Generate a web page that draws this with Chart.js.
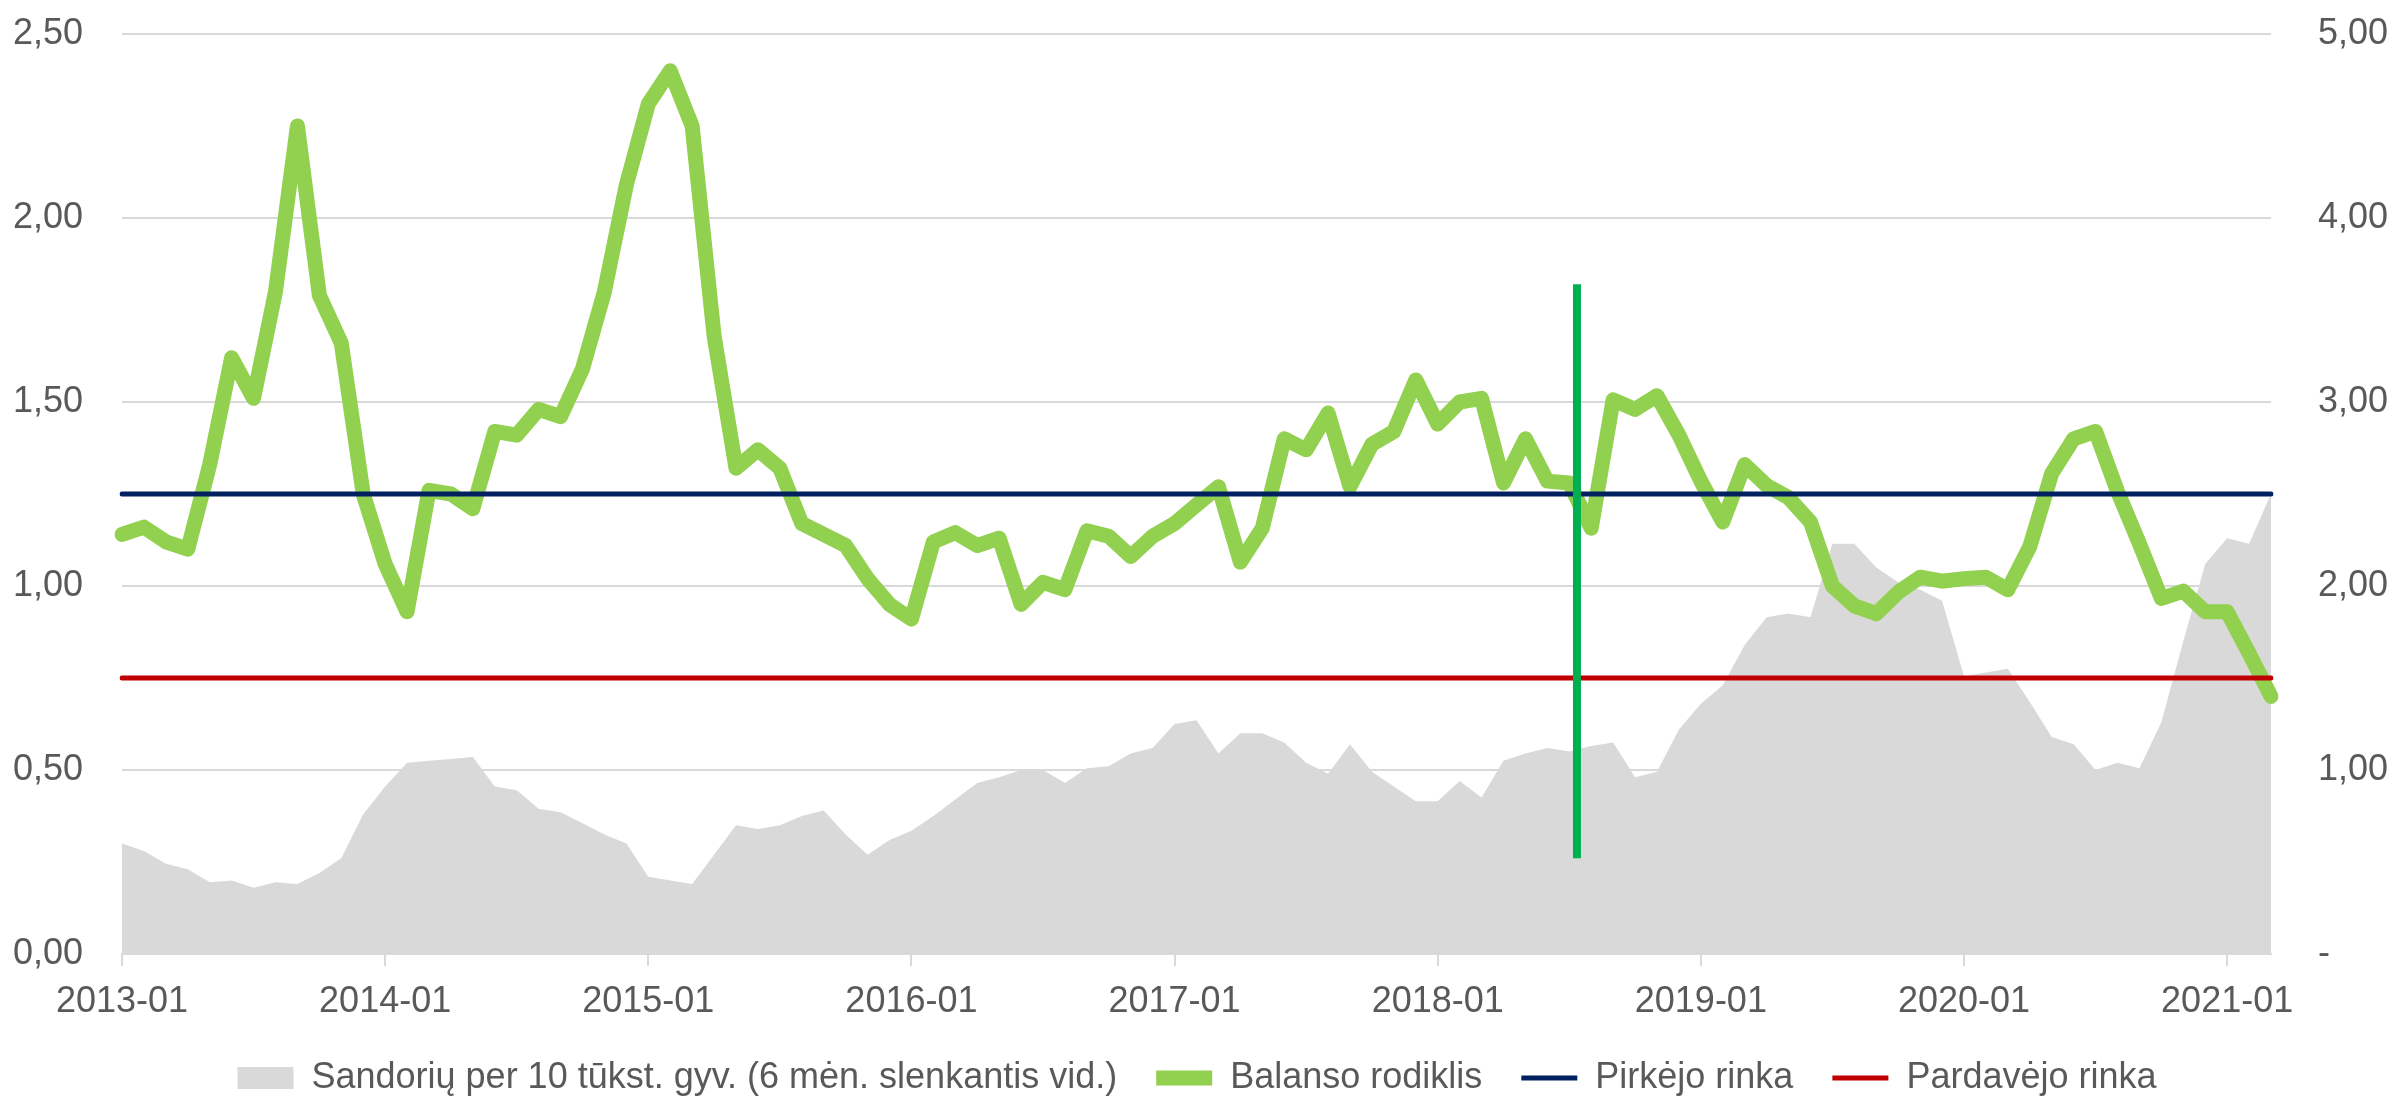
<!DOCTYPE html>
<html>
<head>
<meta charset="utf-8">
<script src="https://cdn.jsdelivr.net/npm/chart.js@4/dist/chart.umd.min.js"></script>
<style>
	html, body { margin: 0; padding: 0; background: #fff; }
	#wrap { width: 2394px; height: 1098px; position: relative; }
</style>
</head>
<body>
<div id="wrap"><canvas id="myChart"></canvas></div>
<script>
// months 2013-01 .. 2021-03
const months = []
for (let y = 2013; y <= 2021; y++) {
	for (let m = 1; m <= 12; m++) {
		if (y === 2021 && m > 3) break
		months.push(y + '-' + String(m).padStart(2, '0'))
	}
}

// Balanso rodiklis (left axis)
const balansas = [
	1.14, 1.16, 1.12, 1.10, 1.33, 1.62, 1.51, 1.80, 2.25, 1.79, 1.66, 1.25,
	1.06, 0.93, 1.26, 1.25, 1.21, 1.42, 1.41, 1.48, 1.46, 1.59, 1.80, 2.09,
	2.31, 2.40, 2.25, 1.68, 1.32, 1.37, 1.32, 1.17, 1.14, 1.11, 1.02, 0.95,
	0.91, 1.12, 1.145, 1.11, 1.13, 0.95, 1.01, 0.99, 1.15, 1.135, 1.08, 1.135,
	1.17, 1.22, 1.27, 1.065, 1.157, 1.40, 1.37, 1.47, 1.27, 1.385, 1.42, 1.56,
	1.44, 1.50, 1.51, 1.28, 1.40, 1.285, 1.28, 1.157, 1.506, 1.48, 1.517, 1.41,
	1.285, 1.174, 1.33, 1.273, 1.24, 1.174, 1.00, 0.946, 0.925, 0.983, 1.024, 1.013,
	1.02, 1.024, 0.99, 1.107, 1.306, 1.40, 1.42, 1.257, 1.115, 0.966, 0.986, 0.93,
	0.93, 0.817, 0.70
]

// Sandoriai per 10 tukst. gyv. (right axis)
const sandoriai = [
	0.60, 0.56, 0.49, 0.46, 0.39, 0.40, 0.36, 0.39, 0.38, 0.44, 0.52, 0.76,
	0.91, 1.04, 1.05, 1.06, 1.07, 0.91, 0.89, 0.79, 0.77, 0.71, 0.65, 0.60,
	0.42, 0.40, 0.38, 0.54, 0.70, 0.68, 0.70, 0.75, 0.78, 0.65, 0.54, 0.62,
	0.67, 0.75, 0.84, 0.93, 0.96, 1.00, 1.00, 0.93, 1.01, 1.02, 1.09, 1.12,
	1.25, 1.27, 1.09, 1.20, 1.20, 1.15, 1.04, 0.98, 1.14, 0.99, 0.91, 0.83,
	0.83, 0.94, 0.85, 1.05, 1.09, 1.12, 1.10, 1.13, 1.15, 0.96, 0.99, 1.22,
	1.36, 1.46, 1.68, 1.83, 1.85, 1.83, 2.23, 2.23, 2.10, 2.02, 1.98, 1.92,
	1.51, 1.53, 1.55, 1.37, 1.18, 1.14, 1.00, 1.04, 1.01, 1.26, 1.70, 2.12,
	2.26, 2.23, 2.50
]

const pirkejoRinka = 1.25
const pardavejoRinka = 0.75

// vertical marker (month index, between 2018-07 and 2018-08) and its span on the left axis
const markerMonth = 66.35
const markerSpan = [0.26, 1.82]

const fontFamily = '"Liberation Sans", Arial, sans-serif'
const fontSize = 36
const textColor = '#595959'
const gridColor = '#d9d9d9'

const fmt = v => Number(v).toFixed(2).replace('.', ',')

Chart.defaults.font.family = fontFamily
Chart.defaults.font.size = fontSize
Chart.defaults.color = textColor

const ctx = document.getElementById('myChart')
const chart = new Chart(ctx, {
	type: 'line',
	data: {
		labels: months,
		datasets: [
			{
				label: 'Sandorių per 10 tūkst. gyv. (6 mėn. slenkantis vid.)',
				data: sandoriai,
				yAxisID: 'y2',
				fill: 'origin',
				backgroundColor: '#d9d9d9',
				borderWidth: 0,
				pointRadius: 0,
				pointStyle: 'rect',
				order: 5,
			},
			{
				label: 'Balanso rodiklis',
				data: balansas,
				yAxisID: 'y',
				borderColor: '#92d050',
				backgroundColor: '#92d050',
				borderWidth: 15,
				borderCapStyle: 'round',
				borderJoinStyle: 'round',
				pointRadius: 0,
				pointStyle: 'line',
				order: 4,
			},
			{
				label: 'Pirkėjo rinka',
				data: months.map(() => pirkejoRinka),
				yAxisID: 'y',
				borderColor: '#002060',
				backgroundColor: '#002060',
				borderWidth: 5,
				borderCapStyle: 'round',
				pointRadius: 0,
				pointStyle: 'line',
				order: 3,
			},
			{
				label: 'Pardavėjo rinka',
				data: months.map(() => pardavejoRinka),
				yAxisID: 'y',
				borderColor: '#c00000',
				backgroundColor: '#c00000',
				borderWidth: 5,
				borderCapStyle: 'round',
				pointRadius: 0,
				pointStyle: 'line',
				order: 2,
			},
			{
				label: 'marker',
				data: markerSpan.map(v => ({x: markerMonth, y: v})),
				xAxisID: 'xv',
				yAxisID: 'y',
				borderColor: '#00b050',
				borderWidth: 8,
				pointRadius: 0,
				order: 1,
			},
		],
	},
	options: {
		responsive: true,
		maintainAspectRatio: false,
		animation: false,
		layout: {
			padding: {top: 34, left: 0, right: 0, bottom: 0},
		},
		plugins: {
			tooltip: {enabled: false},
			legend: {
				position: 'bottom',
				maxHeight: 77,
				labels: {
					usePointStyle: true,
					pointStyleWidth: 56,
					boxHeight: 22,
					padding: 39,
					color: textColor,
					font: {family: fontFamily, size: fontSize},
					filter: item => item.datasetIndex < 4,
					sort: (a, b) => a.datasetIndex - b.datasetIndex,
				},
			},
		},
		scales: {
			x: {
				type: 'category',
				offset: false,
				grid: {
					drawOnChartArea: false,
					drawTicks: true,
					tickLength: 12,
					color: gridColor,
					lineWidth: 2,
				},
				border: {display: true, color: gridColor, width: 2},
				ticks: {
					autoSkip: false,
					maxRotation: 0,
					minRotation: 0,
					padding: 14,
					color: textColor,
				},
				afterBuildTicks: scale => {
					scale.ticks = scale.ticks.filter(t => months[t.value].endsWith('-01'))
				},
				afterFit: scale => {
					scale.height = 67
				},
			},
			xv: {
				type: 'linear',
				display: false,
				min: 0,
				max: months.length - 1,
			},
			y: {
				position: 'left',
				min: 0,
				max: 2.5,
				ticks: {
					stepSize: 0.5,
					padding: 0,
					color: textColor,
					callback: v => fmt(v),
				},
				grid: {
					color: gridColor,
					lineWidth: 2,
					drawTicks: true,
					tickLength: 39,
					tickColor: 'transparent',
				},
				border: {display: false},
				afterFit: scale => {
					scale.width = 122
				},
			},
			y2: {
				position: 'right',
				min: 0,
				max: 5,
				ticks: {
					stepSize: 1,
					padding: 0,
					color: textColor,
					callback: v => (v === 0 ? '-' : fmt(v)),
				},
				grid: {
					drawOnChartArea: false,
					drawTicks: true,
					tickLength: 47,
					tickColor: 'transparent',
				},
				border: {display: false},
				afterFit: scale => {
					scale.width = 123
				},
			},
		},
	},
})
</script>
</body>
</html>
